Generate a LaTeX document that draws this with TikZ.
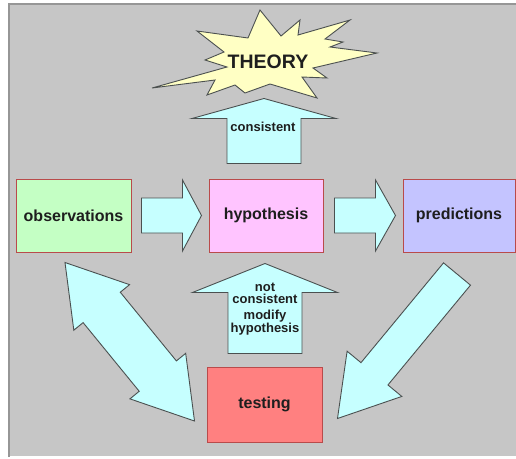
\documentclass[tikz,border=0pt]{standalone}
\usepackage{fontspec}
\setmainfont{Liberation Sans}
\usetikzlibrary{calc}

\definecolor{panel}{RGB}{198,198,198}
\definecolor{panelline}{RGB}{150,150,150}
\definecolor{boxline}{RGB}{185,75,75}
\definecolor{arrowline}{RGB}{75,80,80}
\definecolor{arrowfill}{RGB}{198,255,255}
\definecolor{obsfill}{RGB}{196,255,196}
\definecolor{hypfill}{RGB}{255,196,255}
\definecolor{predfill}{RGB}{196,196,255}
\definecolor{testfill}{RGB}{255,128,128}
\definecolor{burstfill}{RGB}{255,255,196}
\definecolor{ink}{RGB}{30,30,30}

\begin{document}
\begin{tikzpicture}[x=1pt, y=-1pt,
    box/.style={draw=boxline, line width=1pt, minimum width=115pt, minimum height=73pt,
      text=ink, font=\bfseries\fontsize{16}{18}\selectfont},
    fatarrow/.style={draw=arrowline, fill=arrowfill, line width=0.9pt},
    small/.style={text=ink, align=center, font=\bfseries\fontsize{13}{12}\selectfont}]
    \useasboundingbox (0,0) rectangle (516,458);
    \fill[panel] (8,3) rectangle (516,456);
    \draw[panelline, line width=2pt] (9,457) -- (9,4) -- (530,4);

    % boxes
    \node[box, fill=obsfill] (obs) at (73.5,215.5) {observations};
    \node[box, fill=hypfill, minimum width=114pt] (hyp) at (266,215.5) {hypothesis};
    \node[box, fill=predfill, minimum width=112pt] (pred) at (459,215.5) {predictions};
    \node[box, fill=testfill, minimum height=75pt] (test) at (264.5,404.5) {testing};

    % theory
    \draw[arrowline, fill=burstfill, line width=0.9pt, line join=miter]
      (260,10) -- (281,36) -- (300,20) -- (298,35) -- (350,20) -- (325,39) -- (343,42)
      -- (330,47) -- (377,53) -- (313,68) -- (327,78) -- (302,77) -- (317,98) -- (270,84)
      -- (245,93) -- (235,85) -- (207,95) -- (215,80) -- (152,88) -- (227,67) -- (205,60)
      -- (224,52) -- (197,31) -- (248,38) -- cycle;
    \node[text=ink, font=\bfseries\fontsize{19.5}{20}\selectfont] (theory) at (268,62) {THEORY};

    % arrow ends
    \coordinate (oh1) at ($(obs.east)+(10,0)$);
    \coordinate (oh2) at ($(hyp.west)+(-7,0)$);
    \coordinate (hp1) at ($(hyp.east)+(11,0)$);
    \coordinate (hp2) at ($(pred.west)+(-7,0)$);
    \coordinate (ht1) at ($(hyp.north)+(-2,-15)$);
    \coordinate (ht2) at ($(hyp.north)+(-2,-80)$);
    \coordinate (th1) at ($(test.north)+(0.5,-13)$);
    \coordinate (th2) at ($(hyp.south)+(-1,11)$);
    \coordinate (pt1) at ($(pred.south)+(-2,21.5)$);
    \coordinate (pt2) at ($(test.east)+(15,14)$);
    \coordinate (ot1) at ($(obs.south)+(-8.5,10)$);
    \coordinate (ot2) at ($(test.west)+(-12,16.5)$);

    \foreach \src/\dst/\sw/\hw/\hl in {oh1/oh2/17.5pt/35.5pt/19pt, hp1/hp2/17.5pt/35.5pt/20pt,
        ht1/ht2/37pt/72pt/20pt, th1/th2/37pt/72.5pt/29pt, pt1/pt2/17.5pt/35.5pt/58pt} {
      \draw[fatarrow] ($(\src)!\sw!90:(\dst)$) -- ($(\dst)!\hl!(\src)!\sw!-90:(\src)$)
        -- ($(\dst)!\hl!(\src)!\hw!-90:(\src)$) -- (\dst)
        -- ($(\dst)!\hl!(\src)!\hw!90:(\src)$) -- ($(\dst)!\hl!(\src)!\sw!90:(\src)$)
        -- ($(\src)!\sw!-90:(\dst)$) -- cycle;
    }
    \draw[fatarrow] (ot1) -- ($(ot1)!58pt!(ot2)!36pt!90:(ot2)$) -- ($(ot1)!58pt!(ot2)!24pt!90:(ot2)$)
      -- ($(ot2)!58pt!(ot1)!24pt!-90:(ot1)$) -- ($(ot2)!58pt!(ot1)!36pt!-90:(ot1)$) -- (ot2)
      -- ($(ot2)!58pt!(ot1)!36pt!90:(ot1)$) -- ($(ot2)!58pt!(ot1)!24pt!90:(ot1)$)
      -- ($(ot1)!58pt!(ot2)!24pt!-90:(ot2)$) -- ($(ot1)!58pt!(ot2)!36pt!-90:(ot2)$) -- cycle;

    \node[small] (cons) at (263,127) {consistent};
    \node[small] (modify) at (265,309) {not\\consistent\\[4pt]modify\\hypothesis};
\end{tikzpicture}
\end{document}
